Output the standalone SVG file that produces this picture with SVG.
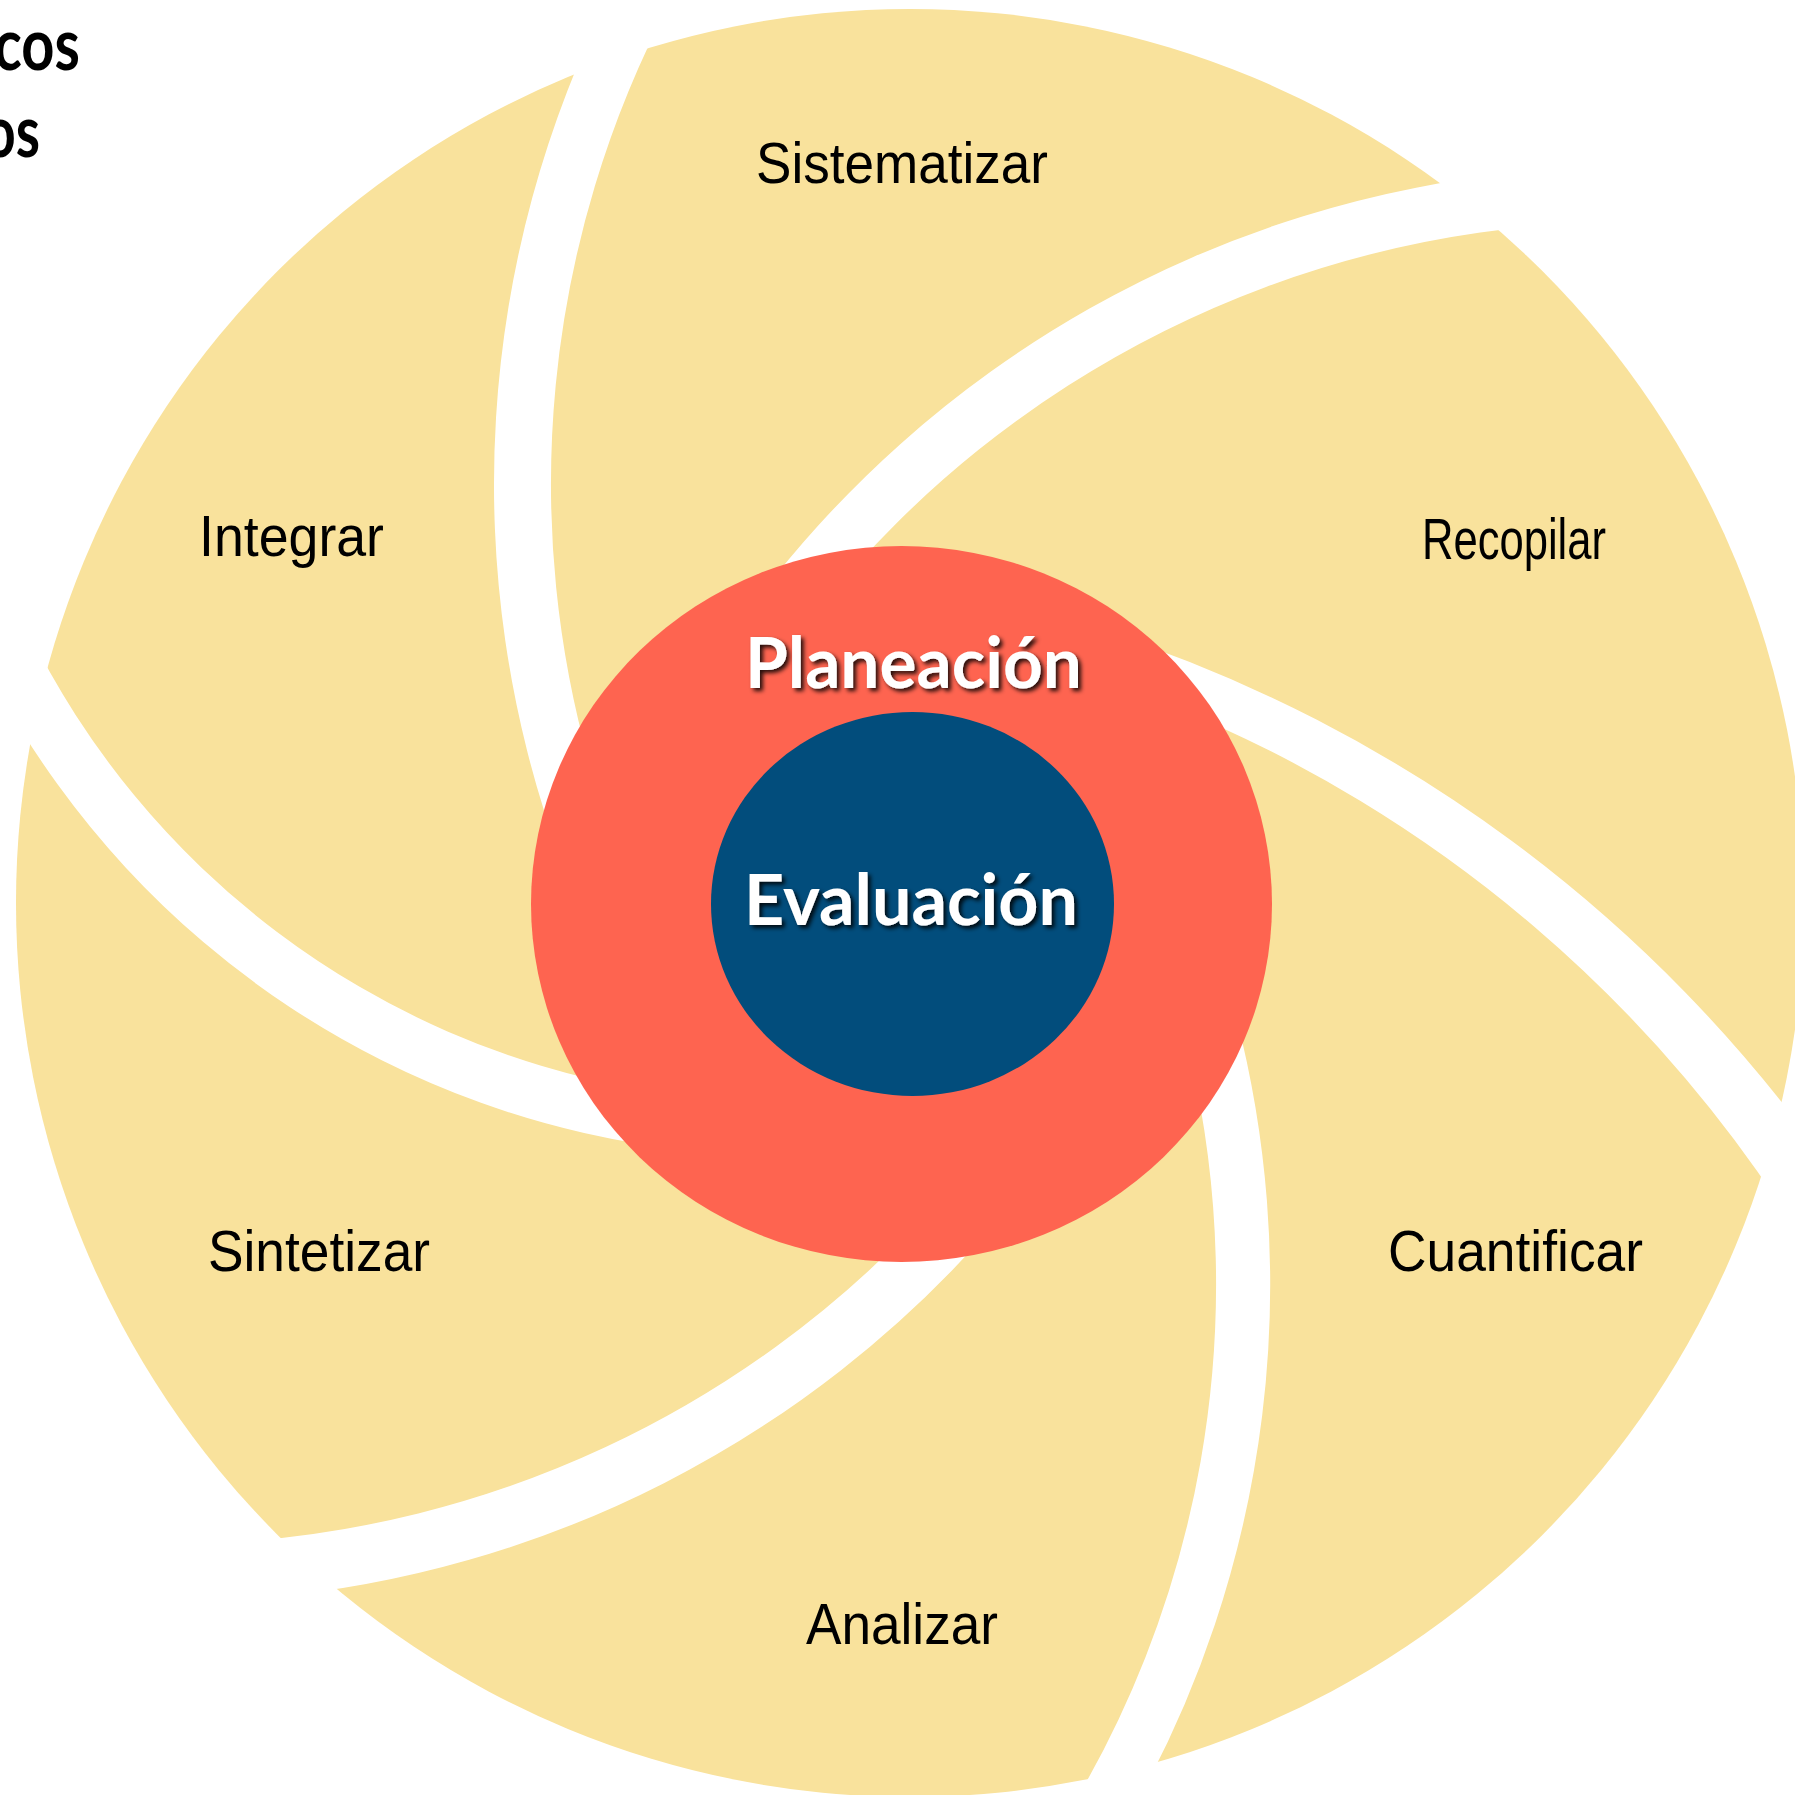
<svg xmlns="http://www.w3.org/2000/svg" width="1795" height="1795" viewBox="0 0 1795 1795">
<defs>
<style>
.disc{fill:#F9E29C}
.gap{fill:#FFFFFF}
.lbl{font-family:"Liberation Sans",Arial,sans-serif;fill:#000000;font-size:57px}
.core{font-family:Lato,"Open Sans",sans-serif;font-weight:700;fill:#FFFFFF;font-size:71px;filter:url(#sh)}
.title{font-family:Lato,"Open Sans",sans-serif;font-weight:700;fill:#000000;font-size:72px}
</style>
<filter id="sh" x="-10%" y="-30%" width="125%" height="170%">
<feDropShadow dx="3" dy="3" stdDeviation="2.2" flood-color="#000000" flood-opacity="0.85"/>
</filter>
</defs>
<rect width="1795" height="1795" fill="#FFFFFF"/>
<g id="title">
<text class="title" x="-6" y="70" textLength="86" lengthAdjust="spacingAndGlyphs">cos</text>
<text class="title" x="-16" y="157" textLength="56" lengthAdjust="spacingAndGlyphs">os</text>
</g>
<g id="wheel">
<circle class="disc" cx="910" cy="903" r="894"/>
<g id="connectors">
<path class="gap" d="M671.9,-1 A1033,1033 0 0 0 596.1,786 L559.7,856.8 A1090,1090 0 0 1 612.8,-10.8 Z"/>
<path class="gap" d="M1531.6,171.3 A1091,1091 0 0 0 744.1,616.8 L821.6,606.1 A1036,1036 0 0 1 1590.5,222.7 Z"/>
<path class="gap" d="M1105,631.5 A1423.6,1423.6 0 0 1 1831.3,1168.8 L1810.6,1253 A1330,1330 0 0 0 1168.8,704.9 Z"/>
<path class="gap" d="M1228.7,989.3 A1071.6,1071.6 0 0 1 1126.6,1820.5 L1051.9,1838.9 A1017.5,1017.5 0 0 0 1190,1055.8 Z"/>
<path class="gap" d="M222.3,1542.8 A1034,1034 0 0 0 924.4,1215.4 L992.3,1226.6 A1092,1092 0 0 1 263.4,1598 Z"/>
<path class="gap" d="M27,628.6 A842,842 0 0 0 637.6,1088.7 L690.1,1150.6 A896,896 0 0 1 0.1,693.9 Z"/>
</g>
</g>
<g id="node-sistematizar"><text class="lbl" x="756" y="183" font-size="58" textLength="292" lengthAdjust="spacingAndGlyphs">Sistematizar</text></g>
<g id="node-recopilar"><text class="lbl" x="1422" y="559" textLength="184" lengthAdjust="spacingAndGlyphs">Recopilar</text></g>
<g id="node-cuantificar"><text class="lbl" x="1388" y="1271" font-size="58" textLength="255" lengthAdjust="spacingAndGlyphs">Cuantificar</text></g>
<g id="node-analizar"><text class="lbl" x="806" y="1644" textLength="192" lengthAdjust="spacingAndGlyphs">Analizar</text></g>
<g id="node-sintetizar"><text class="lbl" x="208" y="1271" font-size="58" textLength="222" lengthAdjust="spacingAndGlyphs">Sintetizar</text></g>
<g id="node-integrar"><text class="lbl" x="199" y="556" textLength="185" lengthAdjust="spacingAndGlyphs">Integrar</text></g>
<g id="node-planeacion">
<ellipse cx="901.5" cy="904" rx="370.5" ry="358" fill="#FE6450"/>
<text class="core" x="745" y="688" textLength="337" lengthAdjust="spacingAndGlyphs">Planeación</text>
</g>
<g id="node-evaluacion">
<ellipse cx="912.5" cy="904" rx="201.5" ry="192" fill="#024D7C"/>
<text class="core" x="744" y="925" textLength="334" lengthAdjust="spacingAndGlyphs">Evaluación</text>
</g>
</svg>
